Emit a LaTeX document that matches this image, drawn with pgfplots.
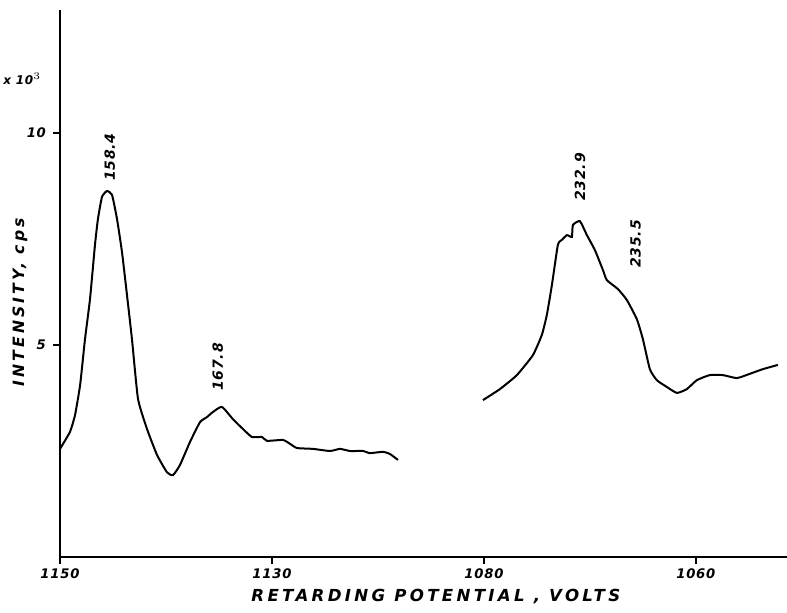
\documentclass[border=0pt]{standalone}
\usepackage{fontspec}
\setmainfont{DejaVu Sans}
\newfontfamily\hand[LetterSpace=6]{DejaVu Sans}
\newfontfamily\handwide[LetterSpace=20]{DejaVu Sans}
\usepackage{pgfplots}
\usepackage{pgfplotstable}
\pgfplotsset{compat=1.18}

% spectrum, left window: retarding potential (V) vs intensity (x10^3 cps)
\pgfplotstableread{
V        I
1150.00  2.55
1149.06  2.95
1148.58  3.35
1148.10  4.06
1147.64  5.14
1147.17  6.08
1146.70  7.36
1146.42  7.97
1146.04  8.49
1145.57  8.63
1145.09  8.54
1144.62  7.97
1144.15  7.19
1143.68  6.18
1143.21  5.14
1142.64  3.73
1141.79  3.02
1140.85  2.41
1139.91  2.00
1139.34  1.93
1138.68  2.17
1137.74  2.71
1136.79  3.18
1136.13  3.30
1135.57  3.42
1134.72  3.54
1133.68  3.25
1132.74  3.02
1131.89  2.83
1130.94  2.83
1130.47  2.74
1128.96  2.76
1128.30  2.67
1127.64  2.57
1126.13  2.55
1124.53  2.50
1123.58  2.55
1122.64  2.50
1121.42  2.50
1120.75  2.45
1119.53  2.48
1118.87  2.43
1118.11  2.29
}\lefttab

% right window (after the axis break)
\pgfplotstableread{
V        I
1080.09  3.70
1078.49  3.96
1076.89  4.29
1075.38  4.76
1074.53  5.24
1074.06  5.71
1073.58  6.42
1073.02  7.36
1072.64  7.48
1072.17  7.59
1071.70  7.55
1071.60  7.83
1070.94  7.92
1070.28  7.59
1069.53  7.24
1068.77  6.77
1068.40  6.53
1067.36  6.32
1066.51  6.06
1065.57  5.61
1065.00  5.14
1064.34  4.43
1063.68  4.17
1062.74  4.01
1061.79  3.87
1060.85  3.96
1059.91  4.17
1058.68  4.29
1057.45  4.29
1056.13  4.22
1054.91  4.32
1053.68  4.43
1052.26  4.53
}\righttab

\begin{document}
\begin{tikzpicture}
\begin{axis}[
    scale only axis,
    width=363.5pt, height=273.5pt,
    xmin=0, xmax=68.6,
    ymin=0, ymax=12.9,
    axis lines=left,
    axis line style={line width=1.2pt, -},
    xtick={0,20,40,60},
    xticklabels={1150,1130,1080,1060},
    ytick={5,10},
    tick align=outside,
    major tick length=3.5pt,
    tick style={line width=0.8pt, black},
    /pgf/number format/assume math mode=true,
    ticklabel style={font=\hand\bfseries\itshape\fontsize{6.6}{8}\selectfont},
    xticklabel style={yshift=1pt},
    xlabel={RETARDING POTENTIAL , VOLTS},
    xlabel style={font=\handwide\bfseries\itshape\fontsize{8.3}{9}\selectfont,
        at={(axis description cs:0.517,-0.073)}, anchor=center},
    ylabel={INTENSITY, cps},
    ylabel style={font=\handwide\bfseries\itshape\fontsize{7.8}{9}\selectfont,
        at={(axis description cs:-0.055,0.466)}, anchor=center},
    clip=false,
]
    \addplot[black, line width=1pt, smooth, tension=0.3]
        table[x expr=1150-\thisrow{V}, y=I] {\lefttab};
    \addplot[black, line width=1pt, smooth, tension=0.3]
        table[x expr=1120-\thisrow{V}, y=I] {\righttab};

    \begin{scope}[font=\hand\bfseries\itshape\fontsize{7}{8}\selectfont]
    \node[rotate=90] at (axis cs:4.7,9.43) {158.4};
    \node[rotate=90] at (axis cs:14.9,4.48) {167.8};
    \node[rotate=90] at (axis cs:49.06,8.96) {232.9};
    \node[rotate=90] at (axis cs:54.3,7.38) {235.5};
    \end{scope}
    \node[font=\hand\bfseries\itshape\fontsize{6}{7}\selectfont]
        at (axis description cs:-0.052,0.874) {x 10$^{3}$};
\end{axis}
\pgfresetboundingbox
\useasboundingbox ([shift={(-30pt,-27.5pt)}]current axis.south west)
    rectangle ([shift={(0pt,5pt)}]current axis.north east);
\end{tikzpicture}
\end{document}
